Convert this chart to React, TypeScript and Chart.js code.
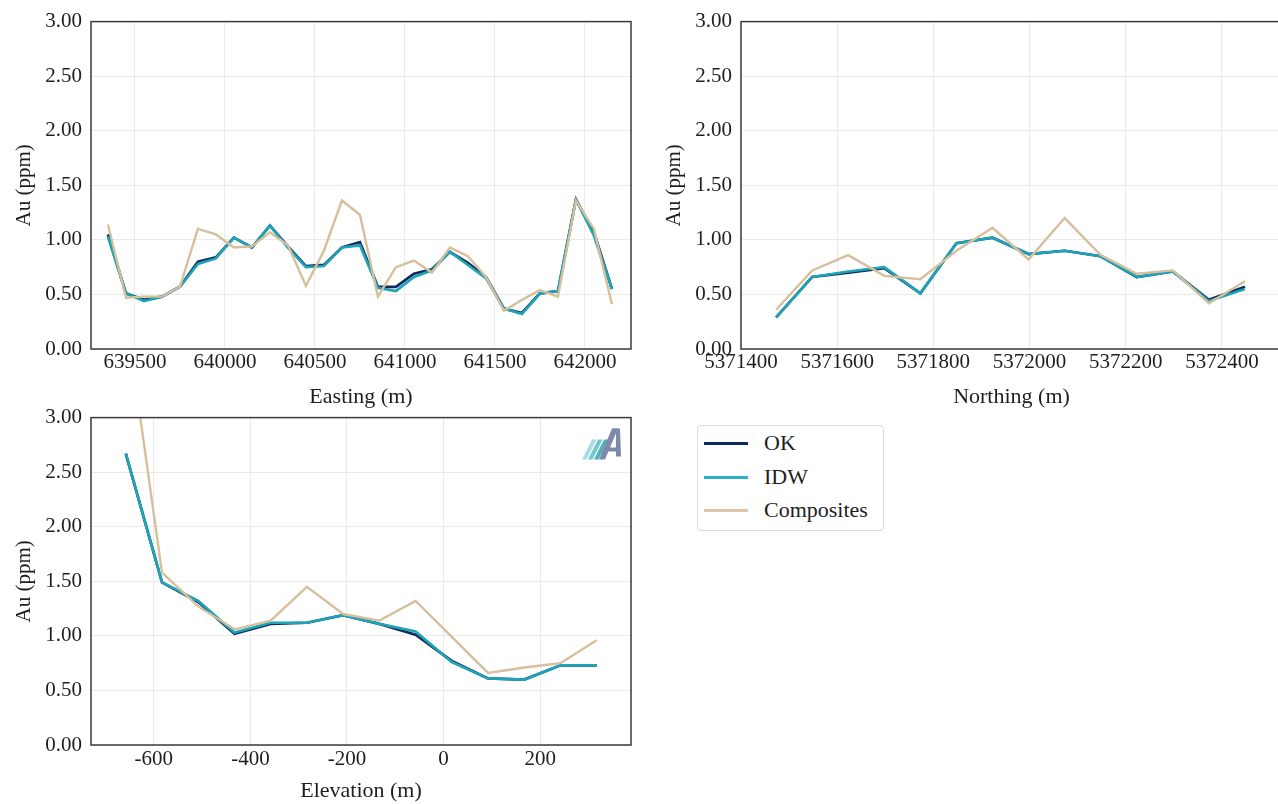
import React, { useEffect, useRef } from "react";
import { Chart, registerables } from "chart.js";

Chart.register(...registerables);

// ---------- DATA ----------
const SERIES_NAMES = ["OK", "IDW", "Composites"];

const EAST_X = [
  639350, 639450, 639550, 639650, 639750, 639850, 639950, 640050, 640150, 640250,
  640350, 640450, 640550, 640650, 640750, 640850, 640950, 641050, 641150, 641250,
  641350, 641450, 641550, 641650, 641750, 641850, 641950, 642050, 642150,
];
const EAST_OK = [
  1.05, 0.51, 0.45, 0.48, 0.57, 0.8, 0.84, 1.02, 0.93, 1.13,
  0.94, 0.76, 0.77, 0.93, 0.98, 0.57, 0.57, 0.69, 0.73, 0.89,
  0.79, 0.66, 0.37, 0.33, 0.51, 0.53, 1.37, 1.07, 0.55,
];
const EAST_IDW = [
  1.03, 0.51, 0.44, 0.48, 0.57, 0.78, 0.83, 1.02, 0.93, 1.13,
  0.93, 0.75, 0.76, 0.93, 0.95, 0.56, 0.53, 0.66, 0.72, 0.89,
  0.77, 0.65, 0.37, 0.32, 0.51, 0.53, 1.37, 1.04, 0.55,
];
const EAST_COMP = [
  1.14, 0.47, 0.48, 0.48, 0.57, 1.1, 1.05, 0.93, 0.94, 1.07,
  0.95, 0.58, 0.9, 1.36, 1.23, 0.48, 0.75, 0.81, 0.7, 0.93,
  0.85, 0.66, 0.35, 0.45, 0.54, 0.48, 1.36, 1.1, 0.41,
];
const EAST_TICKS = [639500, 640000, 640500, 641000, 641500, 642000];

const NORTH_X = [
  5371473, 5371548, 5371623, 5371698, 5371773, 5371848, 5371923,
  5371998, 5372073, 5372148, 5372223, 5372298, 5372373, 5372448,
];
const NORTH_OK = [0.29, 0.66, 0.7, 0.74, 0.51, 0.97, 1.02, 0.87, 0.9, 0.85, 0.66, 0.71, 0.45, 0.57];
const NORTH_IDW = [0.29, 0.66, 0.71, 0.75, 0.51, 0.97, 1.02, 0.87, 0.9, 0.85, 0.66, 0.71, 0.44, 0.55];
const NORTH_COMP = [0.36, 0.72, 0.86, 0.67, 0.64, 0.9, 1.11, 0.82, 1.2, 0.86, 0.69, 0.72, 0.42, 0.62];
const NORTH_TICKS = [5371400, 5371600, 5371800, 5372000, 5372200, 5372400];

const ELEV_X = [-658, -583, -508, -433, -358, -283, -208, -133, -58, 17, 92, 167, 242, 317];
const ELEV_OK = [2.67, 1.49, 1.31, 1.02, 1.11, 1.12, 1.19, 1.11, 1.01, 0.77, 0.61, 0.6, 0.73, 0.73];
const ELEV_IDW = [2.67, 1.49, 1.32, 1.03, 1.12, 1.12, 1.19, 1.11, 1.04, 0.76, 0.61, 0.6, 0.73, 0.73];
const ELEV_COMP = [3.95, 1.58, 1.27, 1.06, 1.14, 1.45, 1.2, 1.14, 1.32, 0.99, 0.66, 0.71, 0.75, 0.96];
const ELEV_TICKS = [-600, -400, -200, 0, 200];

const Y_TICKS = [0, 0.5, 1, 1.5, 2, 2.5, 3];

// ---------- STYLE ----------
const FONT_FAMILY = "'Liberation Serif', 'Times New Roman', serif";
const FONT_SIZE = 21;
const TITLE_SIZE = 22;
const TEXT = "#1e1e1e";
const GRID = "#ebebeb";
const FRAME = "#3a3a3a";
const C_OK = "#0f2a5c";
const C_IDW = "#1fa3b6";
const C_COMP = "#d5bf9c";

const framePlugin = {
  id: "frameBox",
  afterDraw(chart: any) {
    const { ctx, chartArea } = chart;
    const { left, top, right, bottom } = chartArea;
    ctx.save();
    ctx.strokeStyle = FRAME;
    ctx.lineWidth = 1.5;
    ctx.strokeRect(left, top, right - left, bottom - top);
    ctx.restore();
  },
};

function poly(ctx: CanvasRenderingContext2D, pts: number[][], color: string) {
  ctx.beginPath();
  ctx.moveTo(pts[0][0], pts[0][1]);
  for (let i = 1; i < pts.length; i++) ctx.lineTo(pts[i][0], pts[i][1]);
  ctx.closePath();
  ctx.fillStyle = color;
  ctx.fill();
}

const logoPlugin = {
  id: "logoMark",
  afterDraw(chart: any) {
    const opts = chart.options.plugins?.logoMark;
    if (!opts || !opts.show) return;
    const { ctx, chartArea } = chart;
    const R = chartArea.right;
    const T = chartArea.top;
    ctx.save();
    const cols = ["#a8dde3", "#74c6d0", "#4fb0be"];
    for (let k = 0; k < 3; k++) {
      const x0 = R - 49 + 6 * k;
      poly(ctx, [[x0, T + 42], [x0 + 4.5, T + 42], [x0 + 14.5, T + 22], [x0 + 10, T + 22]], cols[k]);
    }
    const A = "#7e8aa8";
    poly(ctx, [[R - 32, T + 42], [R - 26, T + 42], [R - 13, T + 11], [R - 19, T + 11]], A);
    poly(ctx, [[R - 19, T + 11], [R - 11, T + 11], [R - 10, T + 39], [R - 15, T + 39], [R - 15, T + 15]], A);
    poly(ctx, [[R - 22.5, T + 30], [R - 14, T + 30], [R - 14, T + 34], [R - 24, T + 34]], A);
    ctx.restore();
  },
};

type PanelSpec = {
  xs: number[];
  ok: number[];
  idw: number[];
  comp: number[];
  xTicks: number[];
  xMin: number;
  xMax: number;
  xTitle: string;
  padTop: number;
  padRight: number;
  xAxisHeight: number;
  xTickPad: number;
  logo?: boolean;
};

function toPts(xs: number[], ys: number[]) {
  return xs.map((x, i) => ({ x, y: ys[i] }));
}

function Panel(props: { spec: PanelSpec; left: number; top: number; width: number; height: number }) {
  const { spec, left, top, width, height } = props;
  const ref = useRef<HTMLCanvasElement | null>(null);
  useEffect(() => {
    if (!ref.current) return;
    const font = { family: FONT_FAMILY, size: FONT_SIZE };
    const titleFont = { family: FONT_FAMILY, size: TITLE_SIZE };
    const chart = new Chart(ref.current, {
      type: "line",
      data: {
        datasets: [
          {
            label: SERIES_NAMES[0],
            data: toPts(spec.xs, spec.ok),
            borderColor: C_OK,
            borderWidth: 2.7,
            pointRadius: 0,
            tension: 0,
            order: 2,
          },
          {
            label: SERIES_NAMES[1],
            data: toPts(spec.xs, spec.idw),
            borderColor: C_IDW,
            borderWidth: 2.7,
            pointRadius: 0,
            tension: 0,
            order: 1,
          },
          {
            label: SERIES_NAMES[2],
            data: toPts(spec.xs, spec.comp),
            borderColor: C_COMP,
            borderWidth: 2.4,
            pointRadius: 0,
            tension: 0,
            order: 0,
          },
        ],
      },
      options: {
        responsive: false,
        maintainAspectRatio: false,
        animation: false,
        devicePixelRatio: 1,
        layout: { padding: { top: spec.padTop, right: spec.padRight, left: 0, bottom: 0 } },
        plugins: {
          legend: { display: false },
          tooltip: { enabled: false },
          logoMark: { show: !!spec.logo },
        } as any,
        scales: {
          x: {
            type: "linear",
            min: spec.xMin,
            max: spec.xMax,
            afterBuildTicks: (s: any) => {
              s.ticks = spec.xTicks.map((v) => ({ value: v }));
            },
            afterFit: (s: any) => {
              s.height = spec.xAxisHeight;
            },
            ticks: {
              callback: (v: any) => String(v),
              color: TEXT,
              font,
              padding: spec.xTickPad,
              maxRotation: 0,
              autoSkip: false,
            },
            grid: { color: GRID, lineWidth: 1, drawTicks: false },
            border: { display: false },
            title: {
              display: true,
              text: spec.xTitle,
              color: TEXT,
              font: titleFont,
              padding: { top: 0, bottom: 0 },
            },
          },
          y: {
            type: "linear",
            min: 0,
            max: 3,
            afterBuildTicks: (s: any) => {
              s.ticks = Y_TICKS.map((v) => ({ value: v }));
            },
            afterFit: (s: any) => {
              s.width = 91;
            },
            ticks: {
              callback: (v: any) => Number(v).toFixed(2),
              color: TEXT,
              font,
              padding: 9,
            },
            grid: { color: GRID, lineWidth: 1, drawTicks: false },
            border: { display: false },
            title: {
              display: true,
              text: "Au (ppm)",
              color: TEXT,
              font,
              padding: { top: 12, bottom: 0 },
            },
          },
        },
      },
      plugins: [framePlugin, logoPlugin],
    } as any);
    return () => chart.destroy();
  }, []);
  return (
    <canvas
      ref={ref}
      width={width}
      height={height}
      style={{ position: "absolute", left, top, width, height }}
    />
  );
}

const EAST_SPEC: PanelSpec = {
  xs: EAST_X, ok: EAST_OK, idw: EAST_IDW, comp: EAST_COMP,
  xTicks: EAST_TICKS, xMin: 639256, xMax: 642256, xTitle: "Easting (m)",
  padTop: 19, padRight: 9, xAxisHeight: 61, xTickPad: 1,
};
const NORTH_SPEC: PanelSpec = {
  xs: NORTH_X, ok: NORTH_OK, idw: NORTH_IDW, comp: NORTH_COMP,
  xTicks: NORTH_TICKS, xMin: 5371400, xMax: 5372525, xTitle: "Northing (m)",
  padTop: 19, padRight: 0, xAxisHeight: 61, xTickPad: 1,
};
const ELEV_SPEC: PanelSpec = {
  xs: ELEV_X, ok: ELEV_OK, idw: ELEV_IDW, comp: ELEV_COMP,
  xTicks: ELEV_TICKS, xMin: -730, xMax: 388, xTitle: "Elevation (m)",
  padTop: 19, padRight: 9, xAxisHeight: 59, xTickPad: 2, logo: true,
};

const LEGEND_ITEMS = [
  { name: SERIES_NAMES[0], color: C_OK },
  { name: SERIES_NAMES[1], color: "#2eb1c6" },
  { name: SERIES_NAMES[2], color: "#dcc6a8" },
];

function Legend() {
  return (
    <div
      style={{
        position: "absolute",
        left: 697,
        top: 425,
        width: 187,
        height: 106,
        border: "1px solid #dcdcdc",
        borderRadius: 4,
        boxSizing: "border-box",
        background: "#fff",
      }}
    >
      {LEGEND_ITEMS.map((it, i) => (
        <div
          key={it.name}
          style={{
            position: "absolute",
            left: 0,
            top: 4 + i * 33.5,
            height: 26,
            width: 186,
          }}
        >
          <div
            style={{
              position: "absolute",
              left: 6,
              top: 12,
              width: 44,
              height: 3,
              background: it.color,
            }}
          />
          <div
            style={{
              position: "absolute",
              left: 66,
              top: 0,
              fontFamily: FONT_FAMILY,
              fontSize: TITLE_SIZE,
              lineHeight: "26px",
              color: TEXT,
              whiteSpace: "nowrap",
            }}
          >
            {it.name}
          </div>
        </div>
      ))}
    </div>
  );
}

export default function App() {
  return (
    <div
      style={{
        position: "absolute",
        left: 0,
        top: 0,
        width: 1278,
        height: 804,
        background: "#ffffff",
        overflow: "hidden",
      }}
    >
      <Panel spec={EAST_SPEC} left={0} top={0} width={640} height={410} />
      <Panel spec={NORTH_SPEC} left={650} top={0} width={632} height={410} />
      <Panel spec={ELEV_SPEC} left={0} top={396} width={640} height={408} />
      <Legend />
    </div>
  );
}
